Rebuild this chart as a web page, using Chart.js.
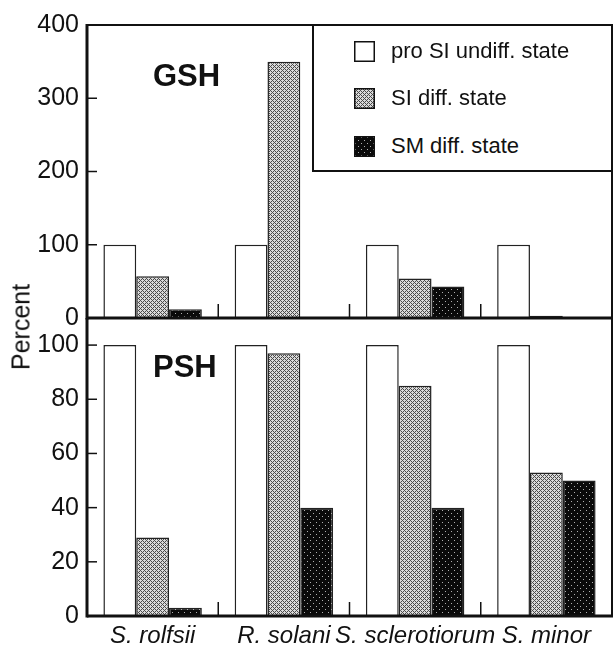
<!DOCTYPE html>
<html><head><meta charset="utf-8">
<script src="https://cdn.jsdelivr.net/npm/chart.js@4"></script>
<style>
html,body{margin:0;padding:0;background:#fff;}
#wrap{position:relative;width:614px;height:649px;overflow:hidden;font-family:"Liberation Sans",Arial,sans-serif;color:#111;}
canvas.ch{position:absolute;left:0;}
#cA{top:0;}
#cB{top:290px;}
.lbl{position:absolute;white-space:nowrap;}
#legend{position:absolute;left:312px;top:24px;width:301px;height:148px;box-sizing:border-box;border:2px solid #111;background:#fff;}
.sw{position:absolute;}
</style></head>
<body>
<div id="wrap">
  <canvas id="cA" class="ch" width="614" height="345"></canvas>
  <canvas id="cB" class="ch" width="614" height="359"></canvas>
  <div id="legend"></div>
  <div class="lbl" style="left:153px;top:56px;height:40px;line-height:40px;font-size:31px;font-weight:bold;">GSH</div>
  <div class="lbl" style="left:153px;top:347px;height:40px;line-height:40px;font-size:31px;font-weight:bold;">PSH</div>
  <div class="lbl" style="left:21px;top:327px;font-size:25px;line-height:25px;transform:translate(-50%,-50%) rotate(-90deg);">Percent</div>
</div>
<script>
const categories = ['S. rolfsii', 'R. solani', 'S. sclerotiorum', 'S. minor'];
const seriesNames = ['pro SI undiff. state', 'SI diff. state', 'SM diff. state'];
const gshProSI = [100, 100, 100, 100];
const gshSI = [57, 350, 54, 3];
const gshSM = [12, 0, 43, 0];
const pshProSI = [100, 100, 100, 100];
const pshSI = [29, 97, 85, 53];
const pshSM = [3, 40, 40, 50];
const gshTicks = [0, 100, 200, 300, 400];
const pshTicks = [0, 20, 40, 60, 80, 100];

function greyPattern(ctx){
  const t=document.createElement('canvas'); t.width=4; t.height=4;
  const c=t.getContext('2d');
  c.fillStyle='#dadada'; c.fillRect(0,0,4,4);
  c.fillStyle='#4a4a4a';
  for(let yy=0;yy<4;yy++)for(let xx=0;xx<4;xx++){
    if((xx+yy)%4===0||(xx-yy+4)%4===0) c.fillRect(xx,yy,1,1);
  }
  return ctx.createPattern(t,'repeat');
}
function blackPattern(ctx){
  const t=document.createElement('canvas'); t.width=6; t.height=6;
  const c=t.getContext('2d');
  c.fillStyle='#0a0a0a'; c.fillRect(0,0,6,6);
  c.fillStyle='#b0b0b0';
  c.fillRect(1,1,1,1); c.fillRect(4,4,1,1);
  return ctx.createPattern(t,'repeat');
}

const deco = {
  id:'deco',
  afterDraw(chart){
    const {ctx, chartArea:a, scales:{x,y}} = chart;
    const isTop = chart.canvas.id==='cA';
    ctx.save();
    ctx.strokeStyle='#111';
    ctx.lineWidth=1.5;
    y.ticks.forEach(t=>{
      const py=y.getPixelForValue(t.value);
      ctx.beginPath(); ctx.moveTo(a.left,py); ctx.lineTo(a.left+10,py); ctx.stroke();
    });
    for(let i=0;i<categories.length-1;i++){
      const px=(x.getPixelForValue(i)+x.getPixelForValue(i+1))/2;
      ctx.beginPath(); ctx.moveTo(px,a.bottom); ctx.lineTo(px,a.bottom-14); ctx.stroke();
    }
    ctx.lineWidth=2;
    ctx.beginPath(); ctx.moveTo(a.right,a.top); ctx.lineTo(a.right,a.bottom); ctx.stroke();
    if(isTop){ ctx.beginPath(); ctx.moveTo(a.left,a.top); ctx.lineTo(a.right+1,a.top); ctx.stroke(); }
    ctx.lineWidth=3;
    ctx.beginPath(); ctx.moveTo(a.left,a.top-(isTop?1:0)); ctx.lineTo(a.left,a.bottom+1.5); ctx.stroke();
    ctx.beginPath(); ctx.moveTo(a.left,a.bottom); ctx.lineTo(a.right+1,a.bottom); ctx.stroke();
    ctx.restore();
  }
};

function makeChart(id, d1, d2, d3, ticks, max, showX, pad){
  const canvas=document.getElementById(id);
  const ctx=canvas.getContext('2d');
  const fills=['#ffffff', greyPattern(ctx), blackPattern(ctx)];
  const data=[d1,d2,d3];
  return new Chart(ctx,{
    type:'bar',
    data:{
      labels:categories,
      datasets:seriesNames.map((n,i)=>({
        label:n, data:data[i], backgroundColor:fills[i],
        borderColor:'#222', borderWidth:1.5,
        categoryPercentage:0.75, barPercentage:1.0
      }))
    },
    options:{
      responsive:false, animation:false,
      events:[],
      layout:{padding:pad},
      plugins:{legend:{display:false}, tooltip:{enabled:false}},
      scales:{
        x:{
          display:showX,
          grid:{display:false, drawTicks:false},
          border:{display:false},
          ticks:{color:'#111', padding:6, font:{family:'Liberation Sans', size:24, style:'italic'}, maxRotation:0, autoSkip:false},
          afterFit(s){ if(showX) s.height=33; }
        },
        y:{
          min:0, max:max,
          grid:{display:false, drawTicks:false},
          border:{display:false},
          ticks:{color:'#111', padding:8, font:{family:'Liberation Sans', size:25}},
          afterBuildTicks(s){ s.ticks=ticks.map(v=>({value:v})); },
          afterFit(s){ s.width=87; }
        }
      }
    },
    plugins:[deco]
  });
}

makeChart('cA', gshProSI, gshSI, gshSM, gshTicks, 400, false, {top:25,right:2,bottom:27,left:0});
makeChart('cB', pshProSI, pshSI, pshSM, pshTicks, 110, true, {top:28,right:2,bottom:0,left:0});

const wrap=document.getElementById('wrap');
const rowsY=[51,98,146];
seriesNames.forEach((n,i)=>{
  const c=document.createElement('canvas'); c.width=21; c.height=21; c.className='sw';
  c.style.left='354px'; c.style.top=(rowsY[i]-10)+'px';
  const cx=c.getContext('2d');
  cx.fillStyle=[ '#ffffff', greyPattern(cx), blackPattern(cx) ][i];
  cx.fillRect(0,0,21,21);
  cx.strokeStyle='#111'; cx.lineWidth=1.5; cx.strokeRect(0.75,0.75,19.5,19.5);
  wrap.appendChild(c);
  const t=document.createElement('div'); t.className='lbl'; t.textContent=n;
  t.style.left='391px'; t.style.top=(rowsY[i]-15)+'px'; t.style.height='30px'; t.style.lineHeight='30px'; t.style.fontSize='22px';
  wrap.appendChild(t);
});
</script>
</body></html>
